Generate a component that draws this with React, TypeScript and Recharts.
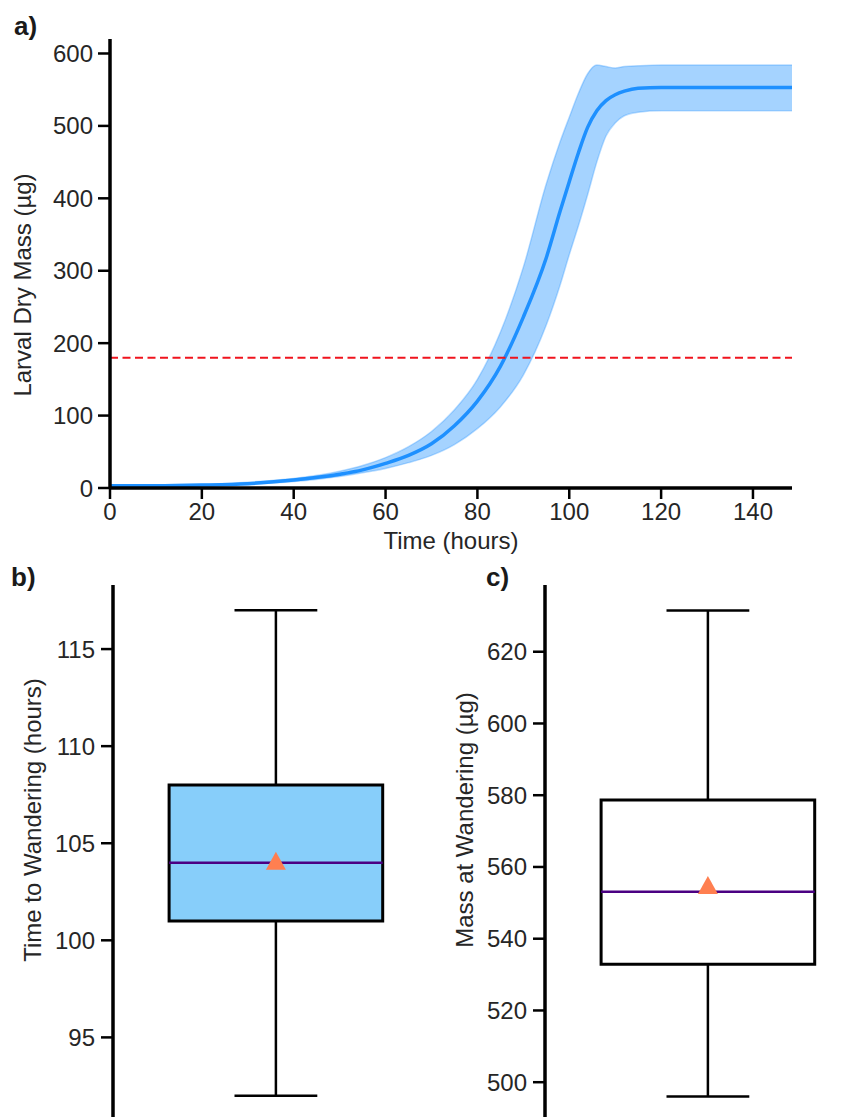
import React from 'react';
import {
  ComposedChart,
  Area,
  Line,
  Scatter,
  XAxis,
  YAxis,
  ReferenceLine,
  ReferenceArea,
} from 'recharts';

// a) growth curve
const hours = [0, 10, 20, 30, 40, 50, 55, 60, 65, 70, 75, 80, 85, 90, 95, 98, 100, 102, 104, 106, 108, 110, 112, 115, 120, 130, 140, 148.5];
const meanMass = [3, 3, 4, 6, 11, 19, 25, 34, 45, 61, 86, 120, 168, 236, 318, 382, 423, 463, 498, 521, 535, 543, 548, 552, 553, 553, 553, 553];
const lowerMass = [2, 2, 3, 5, 9, 16, 21, 27, 35, 45, 60, 82, 112, 156, 225, 280, 322, 362, 405, 450, 486, 504, 514, 519, 521, 521, 521, 521];
const upperMass = [4, 4, 5, 8, 13, 23, 31, 42, 57, 78, 108, 150, 215, 305, 420, 478, 512, 545, 572, 584, 582, 580, 582, 583, 584, 584, 584, 584];
const hourTicks = [0, 20, 40, 60, 80, 100, 120, 140];
const massTicks = [0, 100, 200, 300, 400, 500, 600];
const wanderThreshold = 180;

// b) time to wandering: min, q1, median, q3, max
const timeBox = [92, 101, 104, 108, 117];
const timeMean = 104.1;
const timeTicks = [95, 100, 105, 110, 115];

// c) mass at wandering: min, q1, median, q3, max
const massBox = [496, 532.9, 553.1, 578.7, 631.5];
const massMean = 555;
const wanderMassTicks = [500, 520, 540, 560, 580, 600, 620];

const growthData = hours.map((h, i) => ({
  hour: h,
  mean: meanMass[i],
  band: [lowerMass[i], upperMass[i]],
}));

const FONT = '"Liberation Sans", Arial, sans-serif';
const TEXT = '#262626';
const CENTER = 0.543;
const BOX_HALF = 0.356;
const CAP_HALF = 0.138;

const axisLine = { stroke: '#000', strokeWidth: 3.5 };
const tickLine = { stroke: '#000', strokeWidth: 2.5 };
const tickFont = { fontSize: 24, fill: TEXT };

const VLabel = ({ x, y, text }: { x: number; y: number; text: string }) => (
  <text x={x} y={y} transform={`rotate(-90 ${x} ${y})`} textAnchor="middle" fontSize={24} fill={TEXT}>
    {text}
  </text>
);

const MeanMarker = (props: any) => {
  const { cx, cy } = props;
  return <polygon points={`${cx},${cy - 9} ${cx - 10},${cy + 9} ${cx + 10},${cy + 9}`} fill="#ff7f50" />;
};

interface BoxPanelProps {
  box: number[];
  mean: number;
  ticks: number[];
  domain: [number, number];
  fill: string;
  title: string;
  labelX: number;
  left: number;
}

const BoxPanel: React.FC<BoxPanelProps> = ({ box, mean, ticks, domain, fill, title, labelX, left }) => {
  const [lo, q1, med, q3, hi] = box;
  return (
    <ComposedChart width={431} height={557} margin={{ top: 25, right: 431 - left - 300 - 60, bottom: 0, left }}>
      <XAxis type="number" dataKey="x" domain={[0, 1]} hide />
      <YAxis
        type="number"
        domain={domain}
        ticks={ticks}
        width={60}
        tickSize={12}
        tickMargin={6}
        axisLine={axisLine}
        tickLine={tickLine}
        tick={tickFont}
        allowDataOverflow
        label={() => <VLabel x={labelX} y={260} text={title} />}
      />
      <ReferenceLine segment={[{ x: CENTER, y: q3 }, { x: CENTER, y: hi }]} stroke="#000" strokeWidth={2.5} />
      <ReferenceLine segment={[{ x: CENTER, y: lo }, { x: CENTER, y: q1 }]} stroke="#000" strokeWidth={2.5} />
      <ReferenceLine segment={[{ x: CENTER - CAP_HALF, y: hi }, { x: CENTER + CAP_HALF, y: hi }]} stroke="#000" strokeWidth={2.5} />
      <ReferenceLine segment={[{ x: CENTER - CAP_HALF, y: lo }, { x: CENTER + CAP_HALF, y: lo }]} stroke="#000" strokeWidth={2.5} />
      <ReferenceArea
        x1={CENTER - BOX_HALF}
        x2={CENTER + BOX_HALF}
        y1={q1}
        y2={q3}
        fill={fill}
        fillOpacity={1}
        stroke="#000"
        strokeWidth={3}
      />
      <ReferenceLine
        segment={[{ x: CENTER - BOX_HALF, y: med }, { x: CENTER + BOX_HALF, y: med }]}
        stroke="#4b0082"
        strokeWidth={2.5}
      />
      <Scatter data={[{ x: CENTER, y: mean }]} dataKey="y" shape={MeanMarker} isAnimationActive={false} />
    </ComposedChart>
  );
};

export default function App() {
  return (
    <div
      style={{
        position: 'absolute',
        left: 0,
        top: 0,
        width: 862,
        height: 1117,
        overflow: 'hidden',
        background: '#fff',
        fontFamily: FONT,
      }}
    >
      <div style={{ position: 'absolute', left: 0, top: 0 }}>
        <ComposedChart width={862} height={560} data={growthData} margin={{ top: 39, right: 70, bottom: 0, left: 50 }}>
          <XAxis
            type="number"
            dataKey="hour"
            domain={[0, 148.5]}
            ticks={hourTicks}
            height={72}
            tickSize={11}
            tickMargin={4}
            axisLine={axisLine}
            tickLine={tickLine}
            tick={tickFont}
            label={() => (
              <text x={451} y={549} textAnchor="middle" fontSize={24} fill={TEXT}>
                Time (hours)
              </text>
            )}
          />
          <YAxis
            type="number"
            domain={[0, 620]}
            ticks={massTicks}
            width={60}
            tickSize={12}
            tickMargin={5}
            axisLine={axisLine}
            tickLine={tickLine}
            tick={tickFont}
            label={() => <VLabel x={31} y={285} text="Larval Dry Mass (µg)" />}
          />
          <Area
            type="monotone"
            dataKey="band"
            fill="#1e90ff"
            fillOpacity={0.4}
            stroke="#1e90ff"
            strokeOpacity={0.3}
            strokeWidth={1.5}
            activeDot={false}
            isAnimationActive={false}
          />
          <Line
            type="monotone"
            dataKey="mean"
            stroke="#1e90ff"
            strokeWidth={3.5}
            dot={false}
            activeDot={false}
            isAnimationActive={false}
          />
          <ReferenceLine y={wanderThreshold} stroke="#f0141e" strokeDasharray="8 4.5" strokeWidth={2} />
        </ComposedChart>
      </div>
      <div style={{ position: 'absolute', left: 0, top: 560 }}>
        <BoxPanel
          box={timeBox}
          mean={timeMean}
          ticks={timeTicks}
          domain={[90.9, 118.3]}
          fill="#87cefa"
          title="Time to Wandering (hours)"
          labelX={41}
          left={53}
        />
      </div>
      <div style={{ position: 'absolute', left: 431, top: 560 }}>
        <BoxPanel
          box={massBox}
          mean={massMean}
          ticks={wanderMassTicks}
          domain={[490.3, 638.6]}
          fill="#ffffff"
          title="Mass at Wandering (µg)"
          labelX={42}
          left={54}
        />
      </div>
      <svg width={862} height={1117} style={{ position: 'absolute', left: 0, top: 0, pointerEvents: 'none' }}>
        <text x={14} y={35} fontSize={26} fontWeight="bold" fill="#1a1a1a">a)</text>
        <text x={11} y={586} fontSize={26} fontWeight="bold" fill="#1a1a1a">b)</text>
        <text x={486} y={586} fontSize={26} fontWeight="bold" fill="#1a1a1a">c)</text>
      </svg>
    </div>
  );
}
